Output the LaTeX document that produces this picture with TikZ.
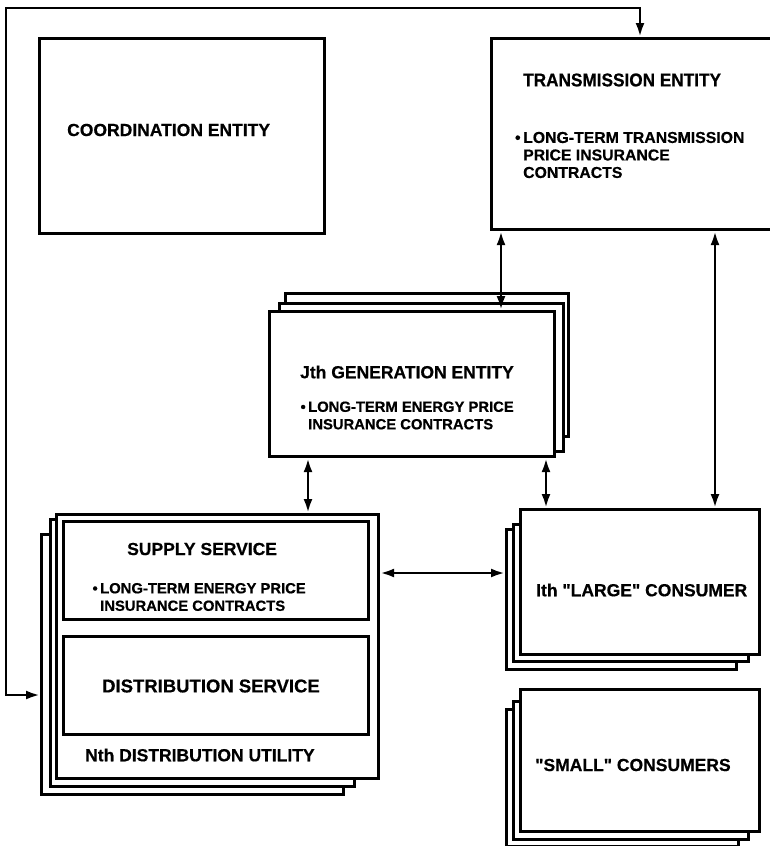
\documentclass[tikz,border=0pt]{standalone}
\usepackage{fontspec}
\newfontfamily\mainf[BoldFeatures={FakeBold=0.5}]{Liberation Sans}
\newfontfamily\condfont[FakeStretch=0.93,BoldFeatures={FakeBold=0.5}]{Liberation Sans}
\usetikzlibrary{arrows.meta}
\begin{document}
\begin{tikzpicture}[x=1pt,y=-1pt,
  box/.style={draw, line width=3.1pt, fill=white, inner sep=0pt, anchor=north west},
  inbox/.style={draw, line width=3.1pt, fill=white, inner sep=0pt, anchor=north west},
  arr/.style={line width=2.7pt, {Latex[length=14pt,width=9pt]}-{Latex[length=14pt,width=9pt]}},
  head/.style={anchor=west, inner sep=0pt, font=\mainf\bfseries\fontsize{17.5}{20}\selectfont},
  bul/.style={anchor=west, inner sep=0pt, align=left, font=\mainf\bfseries\fontsize{14.8}{17.5}\selectfont},
  tbul/.style={anchor=west, inner sep=0pt, align=left, font=\mainf\bfseries\fontsize{15.8}{17.5}\selectfont},
  thead/.style={anchor=west, inner sep=0pt, font=\condfont\bfseries\fontsize{18.5}{21}\selectfont}
]
\useasboundingbox (0,0) rectangle (769,846);
\fill[white] (0,0) rectangle (769,846);

% Coordination entity
\node[box, minimum width=285pt, minimum height=195pt] (coord) at (38,37) {};
\node[head] (coordt) at (67,130) {COORDINATION ENTITY};

% Transmission entity (right edge runs off the page)
\node[box, minimum width=290pt, minimum height=191pt] (trans) at (490,37) {};
\node[thead] (transt) at (523,80) {TRANSMISSION ENTITY};
\node[tbul] (transb) at (523,155) {\llap{\textbullet\,}LONG-TERM TRANSMISSION\\PRICE INSURANCE\\CONTRACTS};

% Jth generation entity (stack)
\node[box, minimum width=283pt, minimum height=143pt] (gen3) at (284,292) {};
\node[box, minimum width=284pt, minimum height=148pt] (gen2) at (278,302) {};
\node[box, minimum width=285pt, minimum height=145pt] (gen1) at (268,310) {};
\node[head] (gent) at (300,372) {Jth GENERATION ENTITY};
\node[bul] (genb) at (308,415.5) {\llap{\textbullet\,}LONG-TERM ENERGY PRICE\\INSURANCE CONTRACTS};

% Nth distribution utility (stack)
\node[box, minimum width=302pt, minimum height=260pt] (dist3) at (40,533) {};
\node[box, minimum width=304pt, minimum height=267pt] (dist2) at (49,518) {};
\node[box, minimum width=322pt, minimum height=264pt] (dist1) at (55,513) {};
\node[inbox, minimum width=305pt, minimum height=98pt] (supply) at (62,520) {};
\node[inbox, minimum width=305pt, minimum height=98pt] (dserv) at (62,635) {};
\node[head] (supplyt) at (127,549) {SUPPLY SERVICE};
\node[bul] (supplyb) at (100,597) {\llap{\textbullet\,}LONG-TERM ENERGY PRICE\\INSURANCE CONTRACTS};
\node[head, font=\mainf\bfseries\fontsize{18.5}{20}\selectfont] (dservt) at (102,686) {DISTRIBUTION SERVICE};
\node[head] (distt) at (85,755) {Nth DISTRIBUTION UTILITY};

% Ith large consumer (stack)
\node[box, minimum width=230pt, minimum height=140pt] (large3) at (505,528) {};
\node[box, minimum width=235pt, minimum height=137pt] (large2) at (512,523) {};
\node[box, minimum width=239pt, minimum height=145pt] (large1) at (519,508) {};
\node[head] (larget) at (536,590) {Ith "LARGE" CONSUMER};

% Small consumers (stack)
\node[box, minimum width=232pt, minimum height=137pt] (small3) at (505,708) {};
\node[box, minimum width=235pt, minimum height=138pt] (small2) at (512,700) {};
\node[box, minimum width=239pt, minimum height=142pt] (small1) at (519,688) {};
\node[head] (smallt) at (535,765) {"SMALL" CONSUMERS};

% helper coordinates
\coordinate (xa) at (501,0);
\coordinate (xb) at (715,0);
\coordinate (xc) at (308,0);
\coordinate (xd) at (546,0);
\coordinate (xf) at (640,0);
\coordinate (yh) at (0,573);
\coordinate (yf) at (0,695);
\coordinate (c1) at (6,695);
\coordinate (c2) at (6,8);

% connectors
\draw[arr] (trans.south -| xa) -- (gen1.north -| xa);
\draw[arr] (trans.south -| xb) -- (large1.north -| xb);
\draw[arr] (gen1.south -| xc) -- (dist1.north -| xc);
\draw[arr] (gen1.south -| xd) -- (large1.north -| xd);
\draw[arr] (dist1.east |- yh) -- (large3.west |- yh);
\draw[arr] (dist3.west |- yf) -- (c1) -- (c2) -| (trans.north -| xf);
\end{tikzpicture}
\end{document}
